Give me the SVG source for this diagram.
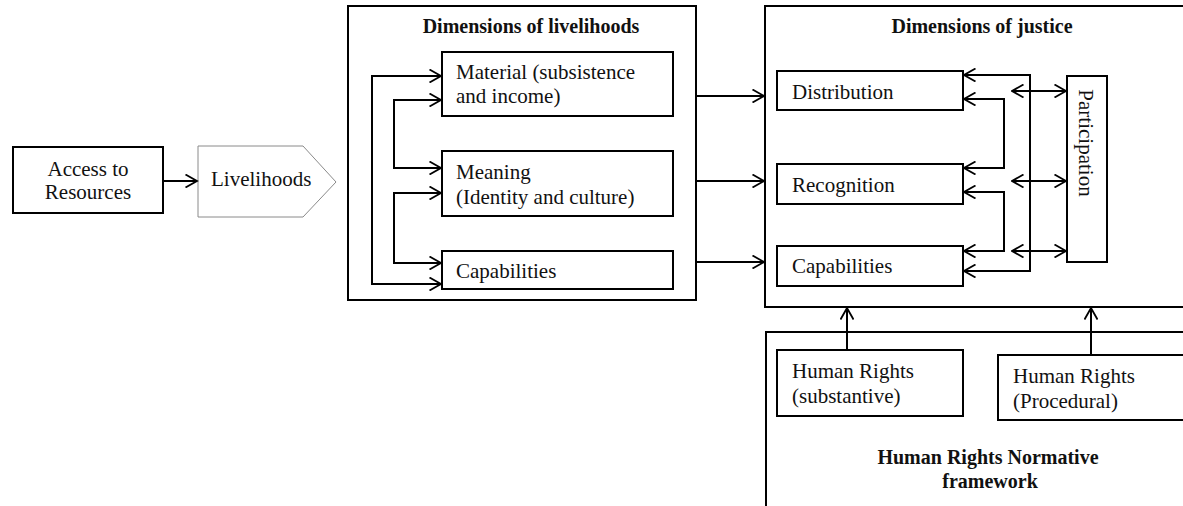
<svg xmlns="http://www.w3.org/2000/svg" width="1183" height="506" viewBox="0 0 1183 506">
  <defs>
    <marker id="arrow" viewBox="0 0 14 14" refX="12.5" refY="7" markerWidth="14" markerHeight="14" markerUnits="userSpaceOnUse" orient="auto-start-reverse">
      <path d="M1,0.5 L12.5,7 L1,13.5" fill="none" stroke="#000" stroke-width="1.8"/>
    </marker>
  </defs>
  <style>
    .box { fill: #fff; stroke: #000; stroke-width: 2; }
    .frame { fill: none; stroke: #000; stroke-width: 2; }
    .txt { font-family: "Liberation Serif", "Times New Roman", serif; font-size: 21px; fill: #111; }
    .ttl { font-family: "Liberation Serif", "Times New Roman", serif; font-size: 20px; font-weight: bold; fill: #111; text-anchor: middle; }
    .c { text-anchor: middle; }
    .arr { fill: none; stroke: #000; stroke-width: 2; marker-end: url(#arrow); }
    .dbl { fill: none; stroke: #000; stroke-width: 2; marker-start: url(#arrow); marker-end: url(#arrow); }
  </style>
  <rect width="1183" height="506" fill="#fff"/>

  <!-- Access to resources -->
  <g id="access">
    <rect class="box" x="13" y="147" width="150" height="66"/>
    <text class="txt c" x="88" y="176">Access to</text>
    <text class="txt c" x="88" y="199">Resources</text>
  </g>

  <!-- Livelihoods pentagon -->
  <g id="livelihoods">
    <polygon points="198,146 303,146 336,182 303,217 198,217" fill="#fff" stroke="#8a8a8a" stroke-width="1"/>
    <text class="txt" x="211" y="186">Livelihoods</text>
  </g>

  <!-- Dimensions of livelihoods -->
  <g id="dim-livelihoods">
    <rect class="frame" x="348" y="6" width="348" height="294"/>
    <text class="ttl" x="531" y="33">Dimensions of livelihoods</text>
  </g>
  <g id="material">
    <rect class="box" x="442" y="52" width="231" height="64"/>
    <text class="txt" x="456" y="79">Material (subsistence</text>
    <text class="txt" x="456" y="103">and income)</text>
  </g>
  <g id="meaning">
    <rect class="box" x="442" y="151" width="231" height="65"/>
    <text class="txt" x="456" y="179">Meaning</text>
    <text class="txt" x="456" y="204">(Identity and culture)</text>
  </g>
  <g id="capabilities-l">
    <rect class="box" x="442" y="251" width="231" height="38"/>
    <text class="txt" x="456" y="278">Capabilities</text>
  </g>

  <!-- Dimensions of justice -->
  <g id="dim-justice">
    <rect class="frame" x="765" y="6" width="430" height="301"/>
    <text class="ttl" x="982" y="33">Dimensions of justice</text>
  </g>
  <g id="distribution">
    <rect class="box" x="777" y="71" width="186" height="39"/>
    <text class="txt" x="792" y="99">Distribution</text>
  </g>
  <g id="recognition">
    <rect class="box" x="777" y="164" width="186" height="40"/>
    <text class="txt" x="792" y="192">Recognition</text>
  </g>
  <g id="capabilities-j">
    <rect class="box" x="777" y="246" width="186" height="40"/>
    <text class="txt" x="792" y="273">Capabilities</text>
  </g>
  <g id="participation">
    <rect class="box" x="1067" y="76" width="40" height="186"/>
    <text class="txt c" transform="translate(1086,143) rotate(90)" x="0" y="7">Participation</text>
  </g>

  <!-- Human Rights normative framework -->
  <g id="hr-framework">
    <rect class="frame" x="766" y="332" width="430" height="190"/>
    <text class="ttl" x="988" y="464">Human Rights Normative</text>
    <text class="ttl" x="990" y="488">framework</text>
  </g>
  <g id="hr-substantive">
    <rect class="box" x="777" y="350" width="186" height="66"/>
    <text class="txt" x="792" y="378">Human Rights</text>
    <text class="txt" x="792" y="403">(substantive)</text>
  </g>
  <g id="hr-procedural">
    <rect class="box" x="998" y="355" width="200" height="65"/>
    <text class="txt" x="1013" y="383">Human Rights</text>
    <text class="txt" x="1013" y="408">(Procedural)</text>
  </g>

  <!-- Connectors -->
  <g id="connectors">
    <line class="arr" x1="163" y1="181" x2="197" y2="181"/>

    <!-- feedback loops among livelihood dimensions -->
    <polyline class="dbl" points="441,76 372,76 372,284 441,284"/>
    <polyline class="dbl" points="441,100 394,100 394,168 441,168"/>
    <polyline class="dbl" points="441,193 394,193 394,263 441,263"/>

    <!-- livelihoods to justice -->
    <line class="arr" x1="696" y1="96" x2="764" y2="96"/>
    <line class="arr" x1="696" y1="181" x2="764" y2="181"/>
    <line class="arr" x1="696" y1="262" x2="764" y2="262"/>

    <!-- links among justice dimensions -->
    <polyline class="dbl" points="964,75 1030,75 1030,271 964,271"/>
    <polyline class="dbl" points="964,99 1004,99 1004,168 964,168"/>
    <polyline class="dbl" points="964,192 1004,192 1004,251 964,251"/>

    <!-- participation links -->
    <line class="dbl" x1="1012" y1="91" x2="1066" y2="91"/>
    <line class="dbl" x1="1012" y1="181" x2="1066" y2="181"/>
    <line class="dbl" x1="1012" y1="251" x2="1066" y2="251"/>

    <!-- human rights feeding justice -->
    <line class="arr" x1="847" y1="350" x2="847" y2="308"/>
    <line class="arr" x1="1091" y1="355" x2="1091" y2="308"/>
  </g>
</svg>
